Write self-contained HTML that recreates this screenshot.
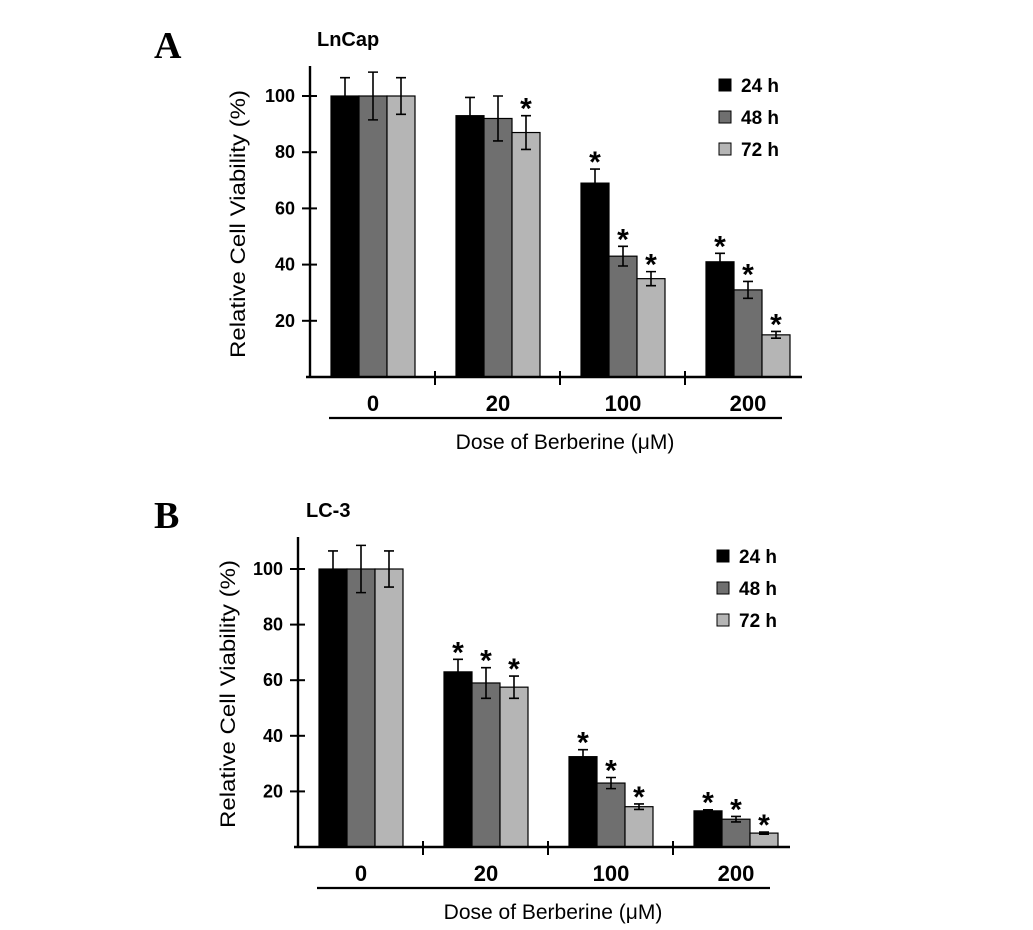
<!DOCTYPE html>
<html><head><meta charset="utf-8"><style>
body{margin:0;background:#fff;}
svg{display:block;font-family:"Liberation Sans",Arial,sans-serif;}
</style></head><body>
<svg id="fig" width="1033" height="930" viewBox="0 0 1033 930">
<rect width="1033" height="930" fill="#fff"/>
</svg>
<script>
const categories = ["0","20","100","200"];
const seriesNames = ["24 h","48 h","72 h"];
const yTicks = [20,40,60,80,100];
const aVals24 = [100,93,69,41];
const aVals48 = [100,92,43,31];
const aVals72 = [100,87,35,15];
const aErr24 = [6.5,6.5,5,3];
const aErr48 = [8.5,8,3.5,3];
const aErr72 = [6.5,6,2.5,1.2];
const aStar24 = [0,0,1,1];
const aStar48 = [0,0,1,1];
const aStar72 = [0,1,1,1];
const bVals24 = [100,63,32.5,13];
const bVals48 = [100,59,23,10];
const bVals72 = [100,57.5,14.5,5];
const bErr24 = [6.5,4.5,2.5,0.4];
const bErr48 = [8.5,5.5,2,1];
const bErr72 = [6.5,4,1,0.4];
const bStar24 = [0,1,1,1];
const bStar48 = [0,1,1,1];
const bStar72 = [0,1,1,1];
const colors = ["#000000","#6f6f6f","#b5b5b5"];
const NS="http://www.w3.org/2000/svg";
const svg=document.getElementById('fig');
function mk(tag,attrs,parent){const e=document.createElementNS(NS,tag);for(const k in attrs)e.setAttribute(k,attrs[k]);(parent||svg).appendChild(e);return e;}
function panel(cfg){
  const g=mk('g',{});
  
  
  const ax=cfg.axisX, base=cfg.base, k=cfg.pxPerUnit;
  const y=v=>base-v*k;
  const groupW=125, barW=28, gOff=21;
  const xg=i=>ax+gOff+i*groupW;
  let t=mk('text',{x:cfg.letterX,y:cfg.letterY,'font-family':'"Liberation Serif",serif','font-weight':'bold','font-size':38},g);t.textContent=cfg.letter;
  
  
  t=mk('text',{x:cfg.titleX,y:cfg.titleY,'font-size':20,'font-weight':'bold'},g);t.textContent=cfg.title;
  
  
  const vals=cfg.vals, errs=cfg.errs, stars=cfg.stars;
  for(let s=0;s<3;s++){
    for(let i=0;i<categories.length;i++){
      const x=xg(i)+s*barW, v=vals[s][i];
      const r=mk('rect',{x:x,y:y(v),width:barW,height:base-y(v),fill:colors[s],stroke:'#000','stroke-width':1.2},g);
      
      
      const cx=x+barW/2, e=errs[s][i];
      const eb=mk('path',{d:`M${cx},${y(v+e)}V${y(v-e)}M${cx-5},${y(v+e)}H${cx+5}M${cx-5},${y(v-e)}H${cx+5}`,stroke:'#000','stroke-width':1.6,fill:'none'},g);
      
      
      if(stars[s][i]){
        const st=mk('text',{x:cx,y:y(v+e)+3,'text-anchor':'middle','font-size':30,'font-weight':'bold'},g);st.textContent='*';
        
        
      }
    }
  }
  const axTop=cfg.axisTop, axRight=ax+4*groupW-8;
  let l=mk('path',{d:`M${ax},${axTop}V${base}M${ax-4},${base}H${axRight}`,stroke:'#000','stroke-width':2.4,fill:'none'},g);
  
  
  for(let i=1;i<4;i++){
    const tx=ax+i*groupW;
    const tk=mk('path',{d:`M${tx},${base-6}V${base+8}`,stroke:'#000','stroke-width':2},g);
    
    
  }
  yTicks.forEach(v=>{
    const tk=mk('path',{d:`M${ax-8},${y(v)}H${ax+7}`,stroke:'#000','stroke-width':2},g);
    
    
    const tl=mk('text',{x:ax-15,y:y(v)+6,'text-anchor':'end','font-size':18,'font-weight':'bold'},g);tl.textContent=v;
    
    
  });
  categories.forEach((c,i)=>{
    const tl=mk('text',{x:xg(i)+1.5*barW,y:base+34,'text-anchor':'middle','font-size':22,'font-weight':'bold'},g);tl.textContent=c;
    
    
  });
  l=mk('path',{d:`M${ax+19},${base+41}H${ax+472}`,stroke:'#000','stroke-width':2.2},g);
  
  
  t=mk('text',{x:ax+255,y:base+72,'text-anchor':'middle','font-size':21},g);t.textContent='Dose of Berberine (\u03bcM)';
  
  
  t=mk('text',{x:0,y:0,'text-anchor':'middle','font-size':21,transform:`translate(${cfg.ylabX},${cfg.ylabY}) rotate(-90)`,textLength:268,lengthAdjust:'spacingAndGlyphs'},g);t.textContent='Relative Cell Viability (%)';
  
  
  seriesNames.forEach((n,s)=>{
    const ly=cfg.legY+s*32;
    const r=mk('rect',{x:cfg.legX,y:ly-6,width:12,height:12,fill:colors[s],stroke:'#000','stroke-width':1},g);
    
    
    const lt=mk('text',{x:cfg.legX+22,y:ly+7,'font-size':19,'font-weight':'bold'},g);lt.textContent=n;
    
    
  });
}
panel({id:'lncap',letter:'A',letterX:154,letterY:58,title:'LnCap',titleX:317,titleY:46,axisX:310,base:377,pxPerUnit:2.81,axisTop:66,
  vals:[aVals24,aVals48,aVals72],errs:[aErr24,aErr48,aErr72],stars:[aStar24,aStar48,aStar72],ylabX:245,ylabY:224,legX:719,legY:85});
panel({id:'lc3',letter:'B',letterX:154,letterY:528,title:'LC-3',titleX:306,titleY:517,axisX:298,base:847,pxPerUnit:2.78,axisTop:537,
  vals:[bVals24,bVals48,bVals72],errs:[bErr24,bErr48,bErr72],stars:[bStar24,bStar48,bStar72],ylabX:235,ylabY:694,legX:717,legY:556});
</script>
</body></html>
